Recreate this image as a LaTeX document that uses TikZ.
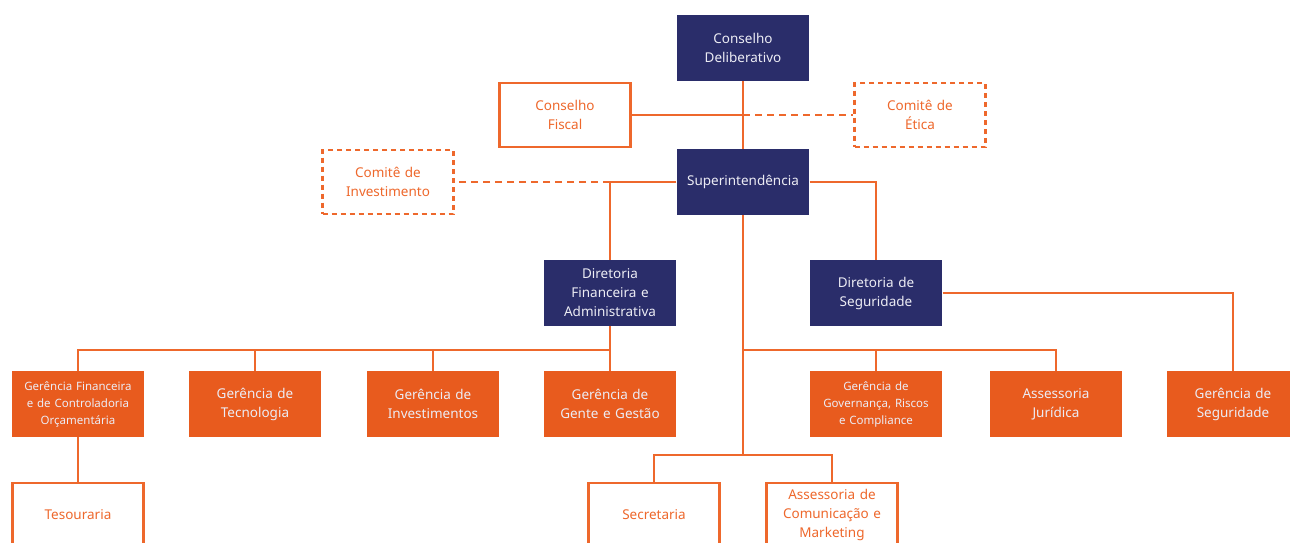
\documentclass[tikz,border=0pt]{standalone}
\usepackage{fontspec}
\setmainfont{Noto Sans}
\usepackage{tikz}
\usetikzlibrary{positioning}
\definecolor{navy}{RGB}{42,45,106}
\definecolor{laranja}{RGB}{232,91,30}
\definecolor{linhacor}{RGB}{238,104,44}
\definecolor{textoclaro}{RGB}{236,236,244}
\tikzstyle{diretoria} = [rectangle, minimum width=132pt, minimum height=66pt, text width=126pt, align=center, fill=navy, text=textoclaro, font=\fontsize{13.5}{19}\selectfont]
\tikzstyle{gerencia} = [rectangle, minimum width=132pt, minimum height=66pt, text width=126pt, align=center, fill=laranja, text=textoclaro, font=\fontsize{13.5}{19}\selectfont]
\tikzstyle{assessoria} = [rectangle, minimum width=130pt, minimum height=64pt, text width=124pt, align=center, draw=linhacor, line width=2.5pt, fill=white, text=linhacor, font=\fontsize{13.5}{19}\selectfont]
\tikzstyle{comite} = [assessoria, dash pattern=on 5pt off 4pt]
\tikzstyle{miuda} = [font=\fontsize{11.5}{17}\selectfont]
\tikzstyle{linha} = [draw=linhacor, line width=2.5pt]
\tikzstyle{tracejada} = [linha, dash pattern=on 7pt off 5pt]

\begin{document}
\begin{tikzpicture}[x=1pt, y=-1pt]
		\useasboundingbox (0,0) rectangle (1290,542);
		\clip (0,0) rectangle (1290,542);
		% topo
		\node (delib) [diretoria] at (743,48) {Conselho\\Deliberativo};
		\node (fiscal) [assessoria] at (565,115) {Conselho\\Fiscal};
		\node (etica) [comite] at (920,115) {Comitê de\\Ética};
		\node (super) [diretoria] at (743,182) {Superintendência};
		\node (invest) [comite] at (388,182) {Comitê de\\Investimento};
		\node (dirfin) [diretoria] at (610,293) {Diretoria\\Financeira e\\Administrativa};
		\node (dirseg) [diretoria] at (876,293) {Diretoria de\\Seguridade};
		% gerencias
		\node (gfin) [gerencia, miuda] at (78,404) {Gerência Financeira\\e de Controladoria\\Orçamentária};
		\node (gtec) [gerencia] at (255,404) {Gerência de\\Tecnologia};
		\node (ginv) [gerencia] at (433,404) {Gerência de\\Investimentos};
		\node (ggente) [gerencia] at (610,404) {Gerência de\\Gente e Gestão};
		\node (ggov) [gerencia, miuda] at (876,404) {Gerência de\\Governança, Riscos\\e Compliance};
		\node (juridica) [gerencia] at (1056,404) {Assessoria\\Jurídica};
		\node (gseg) [gerencia] at (1233,404) {Gerência de\\Seguridade};
		% base
		\node (tes) [assessoria] at (78,515) {Tesouraria};
		\node (secr) [assessoria] at (654,515) {Secretaria};
		\node (comun) [assessoria] at (832,515) {Assessoria de\\Comunicação e\\Marketing};

		\coordinate (jfiscal) at (743,115);
		\coordinate (jinvest) at (610,182);
		\coordinate (barfin) at (610,350);
		\coordinate (barsup) at (743,350);
		\coordinate (barbase) at (743,455);

		\draw [linha] (delib.south) -- (super.north);
		\draw [linha] (fiscal.east) -- (jfiscal);
		\draw [tracejada] (jfiscal) -- (etica.west);
		\draw [linha] (super.west) -- (jinvest) -- (dirfin.north);
		\draw [tracejada] (jinvest) -- (invest.east);
		\draw [linha] (super.east) -| (dirseg.north);
		\draw [linha] (dirseg.east) -| (gseg.north);
		\draw [linha] (dirfin.south) -- (ggente.north);
		\draw [linha] (barfin) -| (gfin.north);
		\draw [linha] (barfin) -| (gtec.north);
		\draw [linha] (barfin) -| (ginv.north);
		\draw [linha] (super.south) -- (barbase);
		\draw [linha] (barsup) -| (ggov.north);
		\draw [linha] (barsup) -| (juridica.north);
		\draw [linha] (barbase) -| (secr.north);
		\draw [linha] (barbase) -| (comun.north);
		\draw [linha] (gfin.south) -- (tes.north);
	\end{tikzpicture}
\end{document}
